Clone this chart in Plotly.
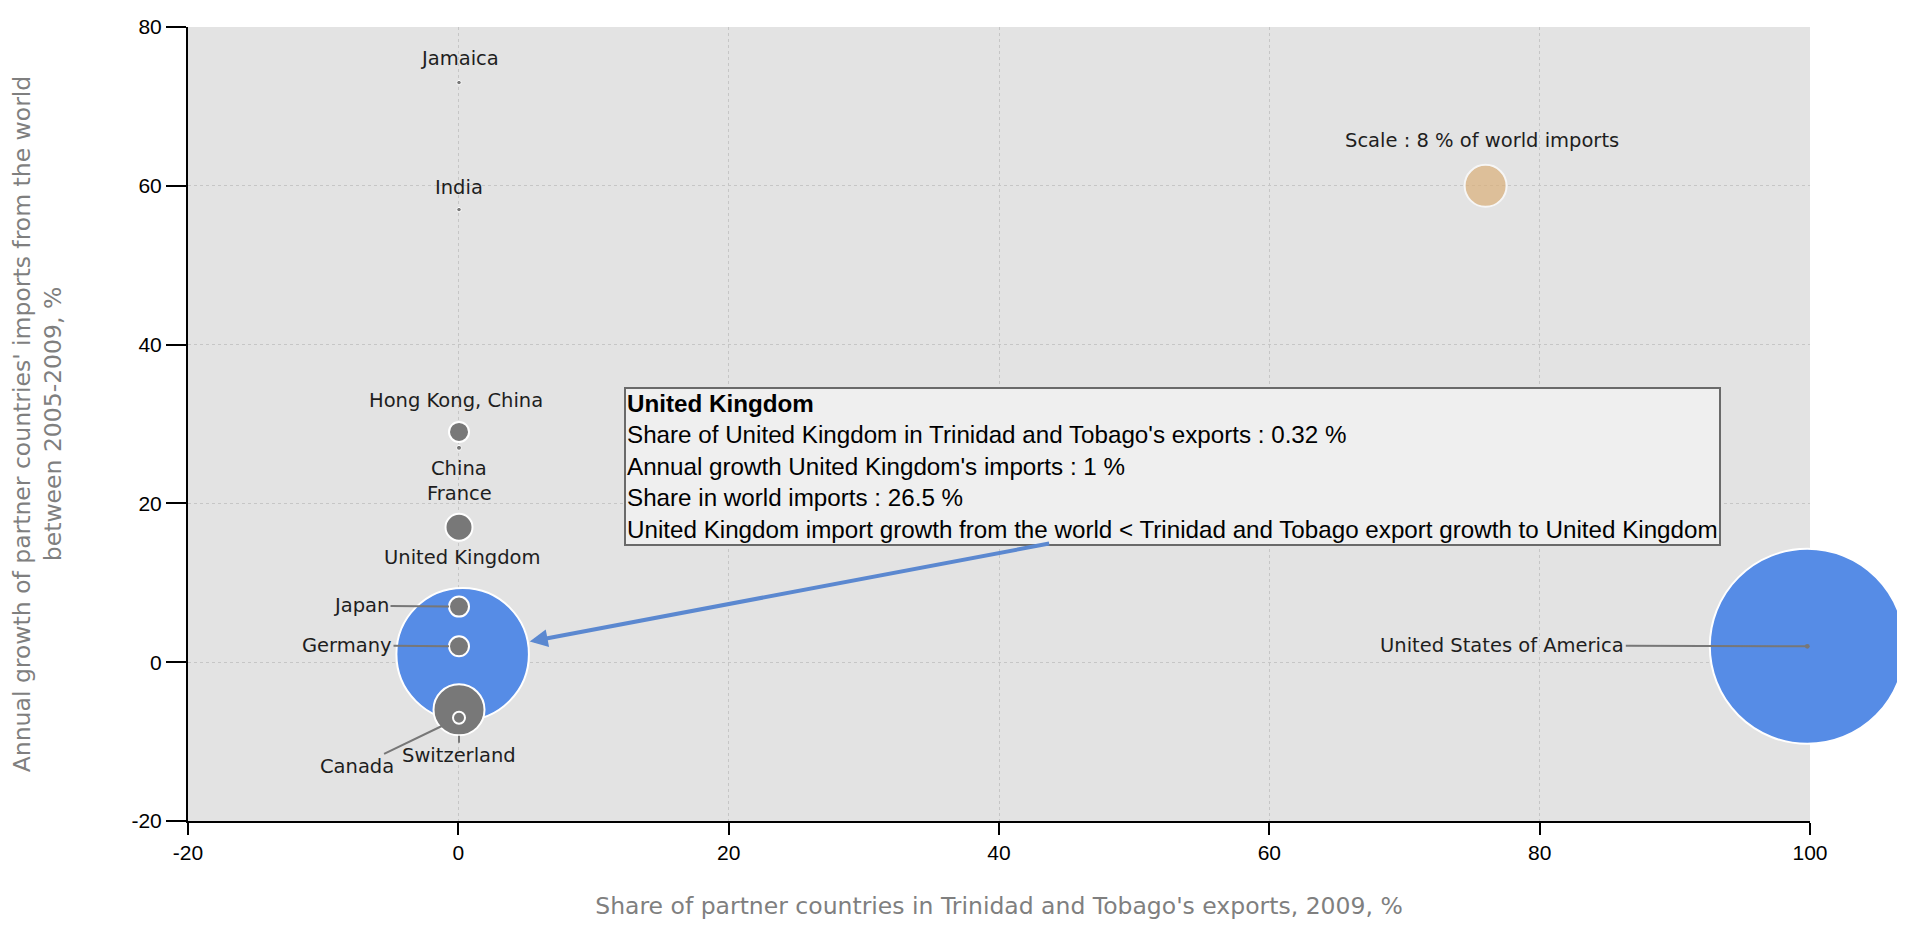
import plotly.graph_objects as go

# ---- data ----
countries = ["United States of America", "United Kingdom", "Switzerland", "France",
             "Hong Kong, China", "Japan", "Germany", "Canada", "China", "Jamaica", "India"]
export_share = [99.8, 0.32, 0.05, 0.05, 0.05, 0.05, 0.05, 0.05, 0.05, 0.05, 0.05]
import_growth = [2, 1, -6, 17, 29, 7, 2, -7, 27, 73, 57]
world_import_share = [39, 26.5, 10.2, 5.4, 4.0, 4.0, 4.0, 2.4, 1.0, 0.9, 0.9]
import_lt_export = [True, True, False, False, False, False, False, False, False, False, False]

scale_value = 8
scale_x = 76
scale_y = 60

x_ticks = [-20, 0, 20, 40, 60, 80, 100]
y_ticks = [-20, 0, 20, 40, 60, 80]
x_tick_text = ["-20", "0", "20", "40", "60", "80", "100"]
y_tick_text = ["-20", "0", "20", "40", "60", "80"]

highlight = "United Kingdom"

# ---- style ----
BLUE = "#568ce6"
GRAY = "#787878"
TAN = "#dbb07a"
PX_PER_PCT = 5.0
LABEL_FONT = dict(family="DejaVu Sans", size=19.5, color="#1e1e1e")
TITLE_FONT = dict(family="DejaVu Sans", size=23.5, color="#7f7f7f")
TICK_FONT = dict(family="Liberation Sans, Arial", size=21, color="black")

colors = [BLUE if f else GRAY for f in import_lt_export]
line_widths = [2 if s * PX_PER_PCT > 10 else 1 for s in world_import_share]

fig = go.Figure()
fig.add_trace(go.Scatter(
    x=export_share, y=import_growth, mode="markers",
    marker=dict(size=world_import_share, sizemode="diameter", sizeref=1 / PX_PER_PCT,
                color=colors, line=dict(color="white", width=line_widths), opacity=1),
    cliponaxis=False, hoverinfo="text", text=countries, showlegend=False))

fig.add_trace(go.Scatter(
    x=[scale_x], y=[scale_y], mode="markers",
    marker=dict(size=[scale_value], sizemode="diameter", sizeref=1 / (PX_PER_PCT * 1.05),
                color=TAN, line=dict(color="white", width=2)),
    cliponaxis=False, hoverinfo="skip", showlegend=False))

# label placement: (xshift, yshift) for plain labels, or arrow (ax, ay, standoff, head)
plain = {
    "Jamaica": (0, 24), "India": (0, 22), "Hong Kong, China": (-3, 31),
    "China": (0, -21), "France": (0, 34), "United Kingdom": (0, 97),
}
leader = {
    "Japan": (-98, -1, 10, 0), "Germany": (-112, -1, 10, 0),
    "United States of America": (-305, -1, 0, 6),
    "Canada": (-102, 49, 19, 0), "Switzerland": (0, 46, 26, 0),
}
annotations = []
for name, xv, yv in zip(countries, export_share, import_growth):
    if name in plain:
        dx, dy = plain[name]
        annotations.append(dict(x=xv, y=yv, text=name, showarrow=False, xshift=dx, yshift=dy,
                                font=LABEL_FONT))
    elif name in leader:
        ax, ay, so, head = leader[name]
        annotations.append(dict(x=xv, y=yv, text=name, showarrow=True, ax=ax, ay=ay,
                                arrowhead=head, arrowsize=0.6, arrowwidth=2, arrowcolor="#777777",
                                standoff=so, font=LABEL_FONT))

annotations.append(dict(x=scale_x, y=scale_y, text=f"Scale : {scale_value} % of world imports",
                        showarrow=False, xshift=-4, yshift=45, font=LABEL_FONT))

# tooltip for highlighted country
i = countries.index(highlight)
tip = (f"<b>{highlight}</b><br>"
       f"Share of {highlight} in Trinidad and Tobago's exports : {export_share[i]} %<br>"
       f"Annual growth {highlight}'s imports : {import_growth[i]} %<br>"
       f"Share in world imports : {world_import_share[i]} %<br>"
       f"{highlight} import growth from the world &lt; Trinidad and Tobago export growth to {highlight}")
annotations.append(dict(xref="paper", yref="paper", x=0.2688, y=0.546, xanchor="left", yanchor="top",
                        text=tip, showarrow=False, align="left", bgcolor="#efefef",
                        bordercolor="#6a6a6a", borderwidth=2, borderpad=1,
                        font=dict(family="Liberation Sans, Arial", size=24.2, color="black")))
annotations.append(dict(x=export_share[i], y=import_growth[i], text="", showarrow=True,
                        ax=588, ay=-111, arrowhead=2, arrowsize=0.9, arrowwidth=4,
                        arrowcolor="#5b88d0", standoff=world_import_share[i] * PX_PER_PCT / 2 + 2))

axis_common = dict(showline=True, linecolor="black", linewidth=2, ticks="outside", tickcolor="black",
                   tickwidth=1.5, showgrid=True, gridcolor="#c6c6c6", griddash="dot", gridwidth=1,
                   zeroline=False, tickfont=TICK_FONT, automargin=False)

# page body adds an 8px margin, so the figure is sized to fit the 1905x928 window
fig.update_layout(
    width=1889, height=912,
    margin=dict(l=180, r=87, t=19, b=99),
    paper_bgcolor="white", plot_bgcolor="#e3e3e3",
    xaxis=dict(range=[-20, 100], tickvals=x_ticks, ticktext=x_tick_text, ticklen=12,
               title=dict(text="Share of partner countries in Trinidad and Tobago's exports, 2009, %",
                          font=TITLE_FONT, standoff=38),
               **axis_common),
    yaxis=dict(range=[-20, 80], tickvals=y_ticks, ticktext=y_tick_text, ticklen=20,
               title=dict(text="Annual growth of partner countries' imports from the world<br>between 2005-2009, %",
                          font=TITLE_FONT, standoff=70),
               **axis_common),
    annotations=annotations,
    showlegend=False,
)

fig.write_html("out.html")
